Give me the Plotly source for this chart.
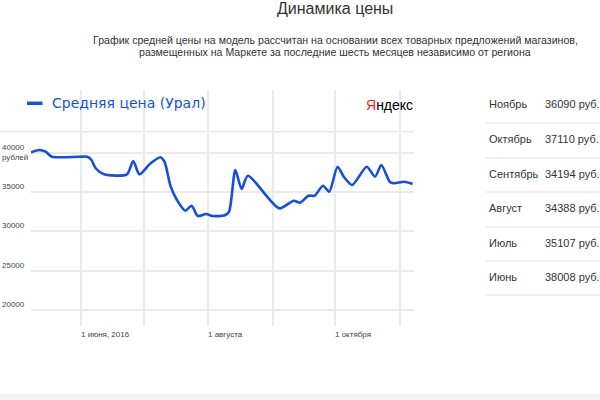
import plotly.graph_objects as go

# ---- data ----
dates = ["2016-05-08", "2016-05-12", "2016-05-15", "2016-05-18", "2016-05-31", "2016-06-04",
         "2016-06-06", "2016-06-08", "2016-06-12", "2016-06-23", "2016-06-26", "2016-06-29",
         "2016-07-04", "2016-07-09", "2016-07-11", "2016-07-14", "2016-07-17", "2016-07-21",
         "2016-07-24", "2016-07-27", "2016-07-31", "2016-08-03", "2016-08-09", "2016-08-11",
         "2016-08-14", "2016-08-17", "2016-08-20", "2016-09-04", "2016-09-11", "2016-09-14",
         "2016-09-18", "2016-09-21", "2016-09-25", "2016-09-28", "2016-10-02", "2016-10-05",
         "2016-10-09", "2016-10-16", "2016-10-20", "2016-10-23", "2016-10-27", "2016-10-29",
         "2016-11-03", "2016-11-07"]
prices = [40050, 40340, 40130, 39490, 39480, 39490,
          39070, 38020, 37250, 37250, 38950, 37250,
          38560, 39420, 38860, 35680, 33990, 32630,
          33260, 31950, 32210, 31950, 32040, 32500,
          37800, 35390, 37080, 32930, 33900, 33640,
          34530, 34530, 35800, 35040, 38220, 36950,
          35890, 38220, 36950, 38440, 36310, 36110,
          36310, 36020]
series_name = "Средняя цена (Урал)"

y_ticks = [20000, 25000, 30000, 35000, 40000]
y_tick_labels = ["20000", "25000", "30000", "35000", "40000<br>рублей"]
month_lines = ["2016-06-01", "2016-07-01", "2016-08-01", "2016-09-01", "2016-10-01", "2016-11-01"]
major_lines = ["2016-06-01", "2016-08-01", "2016-10-01"]
major_labels = ["1 июня, 2016", "1 августа", "1 октября"]

table_months = ["Ноябрь", "Октябрь", "Сентябрь", "Август", "Июль", "Июнь"]
table_values = ["36090 руб.", "37110 руб.", "34194 руб.", "34388 руб.", "35107 руб.", "38008 руб."]

title = "Динамика цены"
subtitle1 = "График средней цены на модель рассчитан на основании всех товарных предложений магазинов,"
subtitle2 = "размещенных на Маркете за последние шесть месяцев независимо от региона"

# ---- layout geometry (pixels) ----
W, H = 600, 400
L, R, T, B = 31, 186, 90, 74
PW, PH = W - L - R, H - T - B


def px(x):
    return (x - L) / PW


def py(y):
    return (H - B - y) / PH


BLUE = "#1450dc"
ARIAL = "Liberation Sans, Arial, sans-serif"

fig = go.Figure()
fig.add_trace(go.Scatter(
    x=dates, y=prices, mode="lines", name=series_name,
    line=dict(color=BLUE, width=2.6, shape="spline", smoothing=0.7),
    hoverinfo="skip", showlegend=False,
))

shapes = []
shapes.append(dict(type="line", xref="paper", yref="paper", x0=px(0), x1=1, y0=py(131.7), y1=py(131.7),
                   line=dict(color="#e6e6e6", width=1.5), layer="below"))
for d in major_lines:
    shapes.append(dict(type="line", xref="x", yref="paper", x0=d, x1=d, y0=0, y1=py(131.7),
                       line=dict(color="#808080", width=1), layer="below"))
shapes.append(dict(type="line", xref="paper", yref="paper", x0=px(27), x1=px(42.5), y0=py(103.3), y1=py(103.3),
                   line=dict(color=BLUE, width=3.5)))
for ysep in [123, 158, 192, 227, 261, 295]:
    shapes.append(dict(type="line", xref="paper", yref="paper", x0=px(485), x1=px(600), y0=py(ysep), y1=py(ysep),
                       line=dict(color="#e3e3e3", width=1)))
shapes.append(dict(type="rect", xref="paper", yref="paper", x0=px(0), x1=px(600), y0=py(400), y1=py(394),
                   fillcolor="#f1f1f1", line=dict(width=0)))

ann = []
ann.append(dict(text=title, xref="paper", yref="paper", x=px(335), y=py(8), xanchor="center", yanchor="middle",
                showarrow=False, font=dict(family=ARIAL, size=16, color="#333333")))
ann.append(dict(text=subtitle1, xref="paper", yref="paper", x=px(335), y=py(40), xanchor="center", yanchor="middle",
                showarrow=False, font=dict(family=ARIAL, size=10.6, color="#333333")))
ann.append(dict(text=subtitle2, xref="paper", yref="paper", x=px(335), y=py(51.5), xanchor="center", yanchor="middle",
                showarrow=False, font=dict(family=ARIAL, size=10.6, color="#333333")))
ann.append(dict(text=series_name, xref="paper", yref="paper", x=px(50), y=py(103), xanchor="left", yanchor="middle",
                showarrow=False, font=dict(family="DejaVu Sans, Verdana, sans-serif", size=14, color=BLUE)))
ann.append(dict(text="<span style='color:#ff1a1a'>Я</span>ндекс", xref="paper", yref="paper", x=px(363.5),
                y=py(105), xanchor="left", yanchor="middle", showarrow=False,
                font=dict(family=ARIAL, size=14, color="#000000")))
for v, lab in zip(y_ticks, y_tick_labels):
    ann.append(dict(text=lab, xref="paper", yref="y", x=px(0), y=v, xanchor="left", yanchor="middle",
                    xshift=0, yshift=0 if "<br>" in lab else 5.5, showarrow=False, align="left",
                    font=dict(family=ARIAL, size=8, color="#444444")))
for d, lab in zip(major_lines, major_labels):
    ann.append(dict(text=lab, xref="x", yref="paper", x=d, y=py(334), xanchor="left", yanchor="middle",
                    xshift=-2, showarrow=False, font=dict(family=ARIAL, size=8, color="#444444")))
row_y = [104, 139, 174, 208, 243, 277]
for m, val, yy in zip(table_months, table_values, row_y):
    ann.append(dict(text=m, xref="paper", yref="paper", x=px(487), y=py(yy), xanchor="left", yanchor="middle",
                    showarrow=False, font=dict(family=ARIAL, size=11, color="#333333")))
    ann.append(dict(text=val, xref="paper", yref="paper", x=px(543), y=py(yy), xanchor="left", yanchor="middle",
                    showarrow=False, font=dict(family=ARIAL, size=11, color="#333333")))

fig.update_layout(
    width=W, height=H, autosize=False,
    margin=dict(l=L, r=R, t=T, b=B, pad=0),
    paper_bgcolor="white", plot_bgcolor="white",
    showlegend=False,
    shapes=shapes, annotations=ann,
    xaxis=dict(type="date", range=["2016-05-08", "2016-11-07 16:00"], tickvals=month_lines,
               showticklabels=False, showgrid=True, gridcolor="#ebebeb", gridwidth=1.5,
               zeroline=False, showline=False, ticks="", fixedrange=True),
    yaxis=dict(range=[17966, 47973], tickvals=y_ticks, showticklabels=False, showgrid=True,
               gridcolor="#ebebeb", gridwidth=1.5, zeroline=False, showline=False, ticks="", fixedrange=True),
)

fig.write_html("out.html", config={"displayModeBar": False},
               post_script="document.body.style.margin='0';document.body.style.overflow='hidden';")
